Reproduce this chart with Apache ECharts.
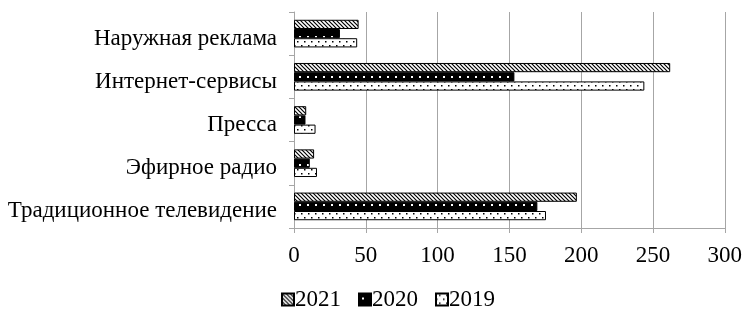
<!DOCTYPE html>
<html>
<head>
<meta charset="utf-8">
<script src="https://cdn.jsdelivr.net/npm/echarts@6/dist/echarts.min.js"></script>
<style>
  html, body { margin: 0; padding: 0; background: #fff; }
  #chart { width: 745px; height: 310px; }
</style>
</head>
<body>
<div id="chart"></div>
<script>
// данные
var categories = ["Традиционное телевидение", "Эфирное радио", "Пресса", "Интернет-сервисы", "Наружная реклама"]
var values2021 = [197, 14, 8.5, 262, 45]
var values2020 = [169.5, 11, 8, 153.5, 32]
var values2019 = [175.5, 16, 15, 244, 44]
var xTicks = [0, 300, 50]  // min, max, interval

// узоры заливки
function makePattern(kind) {
  var c = document.createElement("canvas")
  var ctx = c.getContext("2d")
  if (kind === "hatch") {
    c.width = 4; c.height = 4
    ctx.fillStyle = "#fff"
    ctx.fillRect(0, 0, 4, 4)
    ctx.strokeStyle = "#000"
    ctx.lineWidth = 1.2
    ctx.beginPath()
    ctx.moveTo(-1, -1); ctx.lineTo(5, 5)
    ctx.moveTo(-1, 3); ctx.lineTo(1, 5)
    ctx.moveTo(3, -1); ctx.lineTo(5, 1)
    ctx.stroke()
  } else if (kind === "darkdots") {
    c.width = 8; c.height = 8
    ctx.fillStyle = "#000"
    ctx.fillRect(0, 0, 8, 8)
    ctx.fillStyle = "#fff"
    ctx.fillRect(3, 4, 2, 2)
  } else {
    c.width = 7; c.height = 8
    ctx.fillStyle = "#fff"
    ctx.fillRect(0, 0, 7, 8)
    ctx.fillStyle = "#000"
    ctx.fillRect(3, 1, 1.5, 1.5)
    ctx.fillRect(0, 5, 1.5, 1.5)
  }
  return { image: c, repeat: "repeat" }
}

var chart = echarts.init(document.getElementById("chart"))
var font = "'Liberation Serif', 'Times New Roman', serif"

chart.setOption({
  animation: false,
  textStyle: { fontFamily: font, color: "#000" },
  legend: {
    data: ["2021", "2020", "2019"],
    top: 283,
    left: 276,
    itemWidth: 12,
    itemHeight: 12,
    itemGap: 17,
    icon: "rect",
    textStyle: { fontFamily: font, fontSize: 23, color: "#000", padding: [0, 0, 0, -4] },
  },
  grid: {
    left: 294,
    right: 19,
    top: 12,
    bottom: 82,
  },
  xAxis: {
    type: "value",
    min: xTicks[0],
    max: xTicks[1],
    interval: xTicks[2],
    axisLine: { show: true, lineStyle: { color: "#a6a6a6", width: 1 } },
    axisTick: { show: true, length: 5, lineStyle: { color: "#a6a6a6" } },
    axisLabel: { fontFamily: font, fontSize: 23, color: "#000", margin: 16 },
    splitLine: { show: true, lineStyle: { color: "#a6a6a6", width: 1 } },
  },
  yAxis: {
    type: "category",
    data: categories,
    axisLine: { show: true, lineStyle: { color: "#a6a6a6", width: 1 } },
    axisTick: { show: true, length: 5, lineStyle: { color: "#a6a6a6" } },
    axisLabel: {
      margin: 17,
      formatter: function (v) { return "{c|" + v + "}" },
      rich: {
        c: { fontFamily: font, fontSize: 23, color: "#000", padding: [10, 0, 0, 0] },
      },
    },
  },
  series: [
    {
      name: "2021",
      type: "bar",
      data: values2021,
      barGap: "0%",
      barCategoryGap: "36%",
      itemStyle: { color: makePattern("hatch"), borderColor: "#000", borderWidth: 1 },
    },
    {
      name: "2020",
      type: "bar",
      data: values2020,
      barGap: "0%",
      barCategoryGap: "36%",
      itemStyle: { color: makePattern("darkdots"), borderColor: "#000", borderWidth: 1 },
    },
    {
      name: "2019",
      type: "bar",
      data: values2019,
      barGap: "0%",
      barCategoryGap: "36%",
      itemStyle: { color: makePattern("lightdots"), borderColor: "#000", borderWidth: 1 },
    },
  ],
})
</script>
</body>
</html>
